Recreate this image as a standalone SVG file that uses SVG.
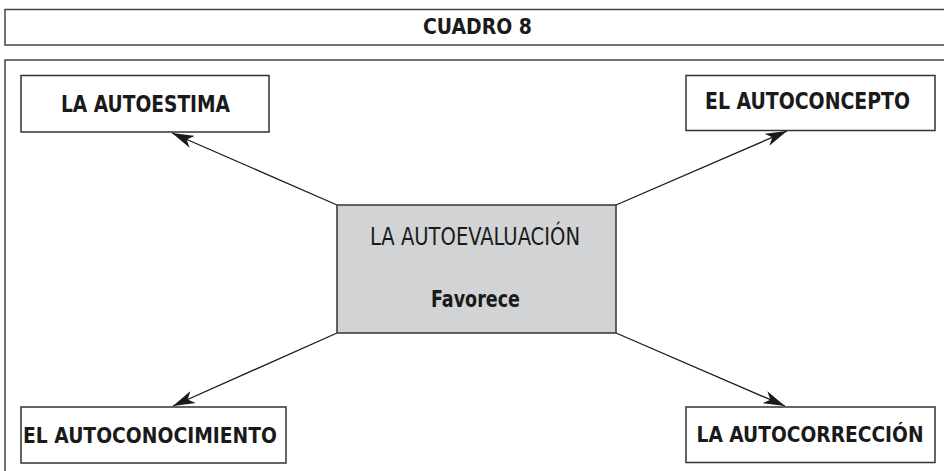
<svg xmlns="http://www.w3.org/2000/svg" width="944" height="471" viewBox="0 0 944 471">
<style>
.box{fill:#fff;stroke:#333;stroke-width:1.5}
.center{fill:#d1d3d4;stroke:#333;stroke-width:1.5}
.frame{fill:none;stroke:#444;stroke-width:1.5}
.t{font-family:"Liberation Sans Narrow","DejaVu Sans Condensed","Liberation Sans",sans-serif;fill:#1a1a1a;text-anchor:middle}
.b{font-weight:bold;font-size:23px}
.s{font-size:21.5px}
.h{font-weight:bold;font-size:21px}
.r{font-weight:normal;font-size:24px}
.conn line{stroke:#1a1a1a;stroke-width:1.3;marker-end:url(#ah)}
</style>
<defs>
<marker id="ah" viewBox="0 0 22 13" refX="22" refY="6.5" markerWidth="22" markerHeight="13" markerUnits="userSpaceOnUse" orient="auto">
<path d="M0,0 L22,6.5 L0,13 L6,6.5 Z" fill="#1a1a1a"/>
</marker>
</defs>
<rect width="944" height="471" fill="#fff"/>
<g id="title">
<rect class="frame" x="5" y="9.5" width="960" height="35.5"/>
<text class="t h" x="477.5" y="33.5" textLength="109" lengthAdjust="spacingAndGlyphs">CUADRO 8</text>
</g>
<rect id="frame" class="frame" x="5" y="60" width="960" height="430"/>
<g class="conn">
<line x1="337" y1="205" x2="172" y2="133"/>
<line x1="616" y1="205" x2="787" y2="131"/>
<line x1="337" y1="333" x2="173" y2="406"/>
<line x1="616" y1="333" x2="785" y2="406"/>
</g>
<g id="n-center">
<rect class="center" x="337" y="205" width="279" height="128"/>
<text class="t r" x="475" y="245" textLength="210" lengthAdjust="spacingAndGlyphs">LA AUTOEVALUACIÓN</text>
<text class="t b" x="475.5" y="306.5" textLength="89" lengthAdjust="spacingAndGlyphs">Favorece</text>
</g>
<g id="n-autoestima">
<rect class="box" x="21" y="75.5" width="248" height="56.5"/>
<text class="t b" x="145.5" y="111.5" textLength="169" lengthAdjust="spacingAndGlyphs">LA AUTOESTIMA</text>
</g>
<g id="n-autoconcepto">
<rect class="box" x="686" y="75.5" width="249" height="55"/>
<text class="t b" x="807.5" y="109" textLength="205" lengthAdjust="spacingAndGlyphs">EL AUTOCONCEPTO</text>
</g>
<g id="n-autoconocimiento">
<rect class="box" x="21" y="407" width="265" height="56"/>
<text class="t b s" x="150" y="443" textLength="254" lengthAdjust="spacingAndGlyphs">EL AUTOCONOCIMIENTO</text>
</g>
<g id="n-autocorreccion">
<rect class="box" x="686" y="407" width="249" height="55.5"/>
<text class="t b s" x="810" y="441.5" textLength="227" lengthAdjust="spacingAndGlyphs">LA AUTOCORRECCIÓN</text>
</g>
</svg>
